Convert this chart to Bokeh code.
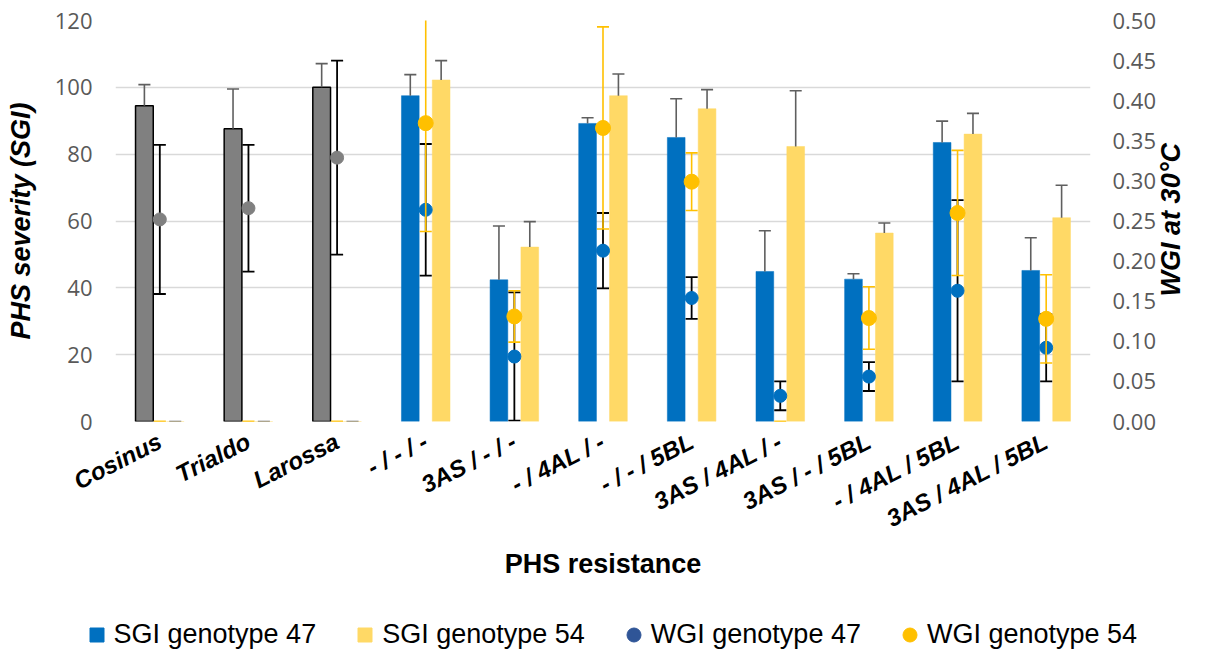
import math
import numpy as np
from bokeh.plotting import figure
from bokeh.models import (ColumnDataSource, FactorRange, Range1d, LinearAxis, FixedTicker,
                          PrintfTickFormatter, Legend, LegendItem)
from bokeh.transform import dodge
from bokeh.embed import file_html
from bokeh.resources import INLINE

# ---------------- data ----------------
categories = ["Cosinus", "Trialdo", "Larossa", "- / - / -", "3AS / - / -", "- / 4AL / -",
              "- / - / 5BL", "3AS / 4AL / -", "3AS / - / 5BL", "- / 4AL / 5BL", "3AS / 4AL / 5BL"]
check_varieties = ["Cosinus", "Trialdo", "Larossa"]

sgi47 = [94.5, 87.6, 100.0, 97.5, 42.4, 89.2, 85.0, 44.9, 42.6, 83.5, 45.2]
sgi47_err = [6.3, 11.9, 7.1, 6.3, 16.1, 1.7, 11.6, 12.2, 1.6, 6.4, 9.8]
sgi54 = [0, 0, 0, 102.2, 52.2, 97.5, 93.6, 82.3, 56.4, 86.0, 61.0]
sgi54_err = [0, 0, 0, 5.8, 7.6, 6.5, 5.7, 16.7, 3.0, 6.2, 9.7]

wgi47 = [0.252, 0.266, 0.329, 0.264, 0.081, 0.213, 0.154, 0.032, 0.056, 0.163, 0.092]
wgi47_err = [0.093, 0.079, 0.121, 0.082, 0.080, 0.047, 0.026, 0.018, 0.018, 0.113, 0.042]
wgi54 = [0, 0, 0, 0.372, 0.131, 0.366, 0.299, 0, 0.129, 0.260, 0.128]
wgi54_err = [0, 0, 0, 0.135, 0.032, 0.126, 0.036, 0, 0.039, 0.078, 0.055]

left_ticks = [0, 20, 40, 60, 80, 100, 120]
right_ticks = [0.0, 0.05, 0.10, 0.15, 0.20, 0.25, 0.30, 0.35, 0.40, 0.45, 0.50]
right_title = "WGI at 30°C"
left_title = "PHS severity (SGI)"
bottom_title = "PHS resistance"
legend_labels = ["SGI genotype 47", "SGI genotype 54", "WGI genotype 47", "WGI genotype 54"]

# ---------------- styles ----------------
BLUE = "#0070C0"
YELLOW_BAR = "#FFD966"
YELLOW_PT = "#FFC000"
GRAY = "#808080"
LEGEND_BLUE = "#2F5597"
ERR_GRAY = "#5F5F5F"
W = 1204

is_check = [c in check_varieties for c in categories]
s47 = np.array(sgi47); e47 = np.array(sgi47_err)
s54 = np.array(sgi54); e54 = np.array(sgi54_err)
w47 = np.array(wgi47); we47 = np.array(wgi47_err)
w54 = np.array(wgi54); we54 = np.array(wgi54_err)

src = ColumnDataSource(dict(
    cat=categories,
    sgi47=s47, sgi47_hi=s47 + e47,
    sgi54=s54, sgi54_hi=s54 + e54,
    wgi47=w47, wgi47_lo=w47 - we47, wgi47_hi=w47 + we47,
    wgi54=w54, wgi54_lo=w54 - we54, wgi54_hi=w54 + we54,
    bar_fill=[GRAY if c else BLUE for c in is_check],
    bar_line=["#000000" if c else BLUE for c in is_check],
    bar_lw=[1.5 if c else 0.5 for c in is_check],
    pt_color=[GRAY if c else BLUE for c in is_check],
))
has54 = w54 > 0
src54 = ColumnDataSource(dict(cat=[c for c, h in zip(categories, has54) if h], wgi54=w54[has54]))

p = figure(width=W, height=600, x_range=FactorRange(factors=categories),
           y_range=Range1d(0, 120), output_backend="svg", toolbar_location=None,
           min_border_left=115, min_border_right=W - 1093, min_border_top=20, min_border_bottom=179)
p.extra_y_ranges = {"wgi": Range1d(0, 0.5)}
p.outline_line_color = None
p.background_fill_color = "white"

OFF = 0.174
BW = 0.2
CAP = 0.068

def dx(off):
    return dodge("cat", off, range=p.x_range)

# bars
p.vbar(x=dx(-OFF), top="sgi47", width=BW, source=src, fill_color="bar_fill",
       line_color="bar_line", line_width="bar_lw")
p.vbar(x=dx(OFF), top="sgi54", width=BW, source=src, fill_color=YELLOW_BAR,
       line_color=YELLOW_BAR, line_width=0.5)

# bar error bars (upper only)
for off, lo, hi in [(-OFF, "sgi47", "sgi47_hi"), (OFF, "sgi54", "sgi54_hi")]:
    p.segment(x0=dx(off), x1=dx(off), y0=lo, y1=hi, source=src, line_color=ERR_GRAY, line_width=1.6)
    p.segment(x0=dx(off - CAP), x1=dx(off + CAP), y0=hi, y1=hi, source=src,
              line_color=ERR_GRAY, line_width=1.6)

# WGI 47 error bars (black)
p.segment(x0=dx(0), x1=dx(0), y0="wgi47_lo", y1="wgi47_hi", source=src, y_range_name="wgi",
          line_color="#000000", line_width=1.8)
for end in ["wgi47_lo", "wgi47_hi"]:
    p.segment(x0=dx(-CAP), x1=dx(CAP), y0=end, y1=end, source=src, y_range_name="wgi",
              line_color="#000000", line_width=1.8)
p.scatter(x="cat", y="wgi47", source=src, y_range_name="wgi", size=13, marker="circle",
          fill_color="pt_color", line_color="pt_color")

# WGI 54 error bars (yellow)
p.segment(x0=dx(0), x1=dx(0), y0="wgi54_lo", y1="wgi54_hi", source=src, y_range_name="wgi",
          line_color=YELLOW_PT, line_width=1.6)
for end in ["wgi54_lo", "wgi54_hi"]:
    p.segment(x0=dx(-CAP), x1=dx(CAP), y0=end, y1=end, source=src, y_range_name="wgi",
              line_color=YELLOW_PT, line_width=1.6)
p.scatter(x="cat", y="wgi54", source=src54, y_range_name="wgi", size=15, marker="circle",
          fill_color=YELLOW_PT, line_color=YELLOW_PT)

# ---------------- axes ----------------
TICK_FONT = "Open Sans"
p.yaxis.ticker = FixedTicker(ticks=left_ticks)
p.yaxis.axis_line_color = None
p.yaxis.major_tick_line_color = None
p.yaxis.minor_tick_line_color = None
p.yaxis.major_tick_out = 0
p.yaxis.major_label_standoff = 23
p.yaxis.major_label_text_font = TICK_FONT
p.yaxis.major_label_text_font_size = "22px"
p.yaxis.major_label_text_color = "#595959"
p.yaxis.axis_label = left_title
p.yaxis.axis_label_text_font = "Liberation Sans"
p.yaxis.axis_label_text_font_style = "bold italic"
p.yaxis.axis_label_text_font_size = "27px"
p.yaxis.axis_label_text_color = "#000000"
p.yaxis.axis_label_standoff = 16

ry = LinearAxis(y_range_name="wgi", ticker=FixedTicker(ticks=right_ticks),
                formatter=PrintfTickFormatter(format="%.2f"))
ry.axis_line_color = None
ry.major_tick_line_color = None
ry.minor_tick_line_color = None
ry.major_tick_out = 0
ry.major_label_standoff = 22
ry.major_label_text_font = TICK_FONT
ry.major_label_text_font_size = "22px"
ry.major_label_text_color = "#595959"
p.add_layout(ry, "right")

# right-hand title, reading bottom-to-top like the reference (text starts at the anchor)
title_anchor = 0.156
rt = LinearAxis(y_range_name="wgi", ticker=FixedTicker(ticks=[title_anchor]),
                major_label_overrides={title_anchor: right_title})
rt.axis_line_color = None
rt.major_tick_line_color = None
rt.minor_tick_line_color = None
rt.major_tick_out = 0
rt.major_label_standoff = 12
rt.major_label_orientation = math.pi / 2
rt.major_label_text_font = "Liberation Sans"
rt.major_label_text_font_style = "bold italic"
rt.major_label_text_font_size = "27px"
rt.major_label_text_color = "#000000"
p.add_layout(rt, "right")

p.xaxis.axis_line_color = None
p.xaxis.major_tick_line_color = None
p.xaxis.major_tick_out = 0
p.xaxis.major_label_orientation = 0.47
p.xaxis.major_label_standoff = 18
p.xaxis.major_label_text_font = "Liberation Sans"
p.xaxis.major_label_text_font_style = "bold italic"
p.xaxis.major_label_text_font_size = "24px"
p.xaxis.major_label_text_color = "#000000"
p.xaxis.axis_label = bottom_title
p.xaxis.axis_label_text_font = "Liberation Sans"
p.xaxis.axis_label_text_font_style = "bold"
p.xaxis.axis_label_text_font_size = "27px"
p.xaxis.axis_label_text_color = "#000000"
p.xaxis.axis_label_standoff = 2

p.xgrid.visible = False
p.ygrid.grid_line_color = "#D9D9D9"
p.ygrid.grid_line_width = 1.4

# ---------------- legend (own strip below the chart, separate root) ----------------
lg = figure(width=W, height=52, x_range=Range1d(0, 1), y_range=Range1d(0, 1),
            x_axis_type=None, y_axis_type=None, output_backend="svg", toolbar_location=None,
            min_border=0, min_border_left=0, min_border_right=0, min_border_top=0,
            min_border_bottom=0)
lg.outline_line_color = None
legend_styles = [("square", BLUE, "sgi47"), ("square", YELLOW_BAR, "sgi54"),
                 ("circle", LEGEND_BLUE, "wgi47"), ("circle", YELLOW_PT, "wgi54")]
items = []
for lab, (mk, col, fld) in zip(legend_labels, legend_styles):
    r = lg.scatter(x="cat", y=fld, source=src, marker=mk, size=14,
                   fill_color=col, line_color=col, visible=False)
    items.append(LegendItem(label=lab, renderers=[r]))
legend = Legend(items=items, orientation="horizontal", location=(78.5, 0.5),
                glyph_width=35, glyph_height=35, label_standoff=0, spacing=31, padding=0, margin=0,
                border_line_color=None, background_fill_alpha=0,
                inactive_fill_alpha=0, click_policy="none",
                label_text_font="Liberation Sans", label_text_font_size="27px",
                label_text_color="#000000")
lg.add_layout(legend)

open("out.html", "w").write(file_html([p, lg], INLINE))
